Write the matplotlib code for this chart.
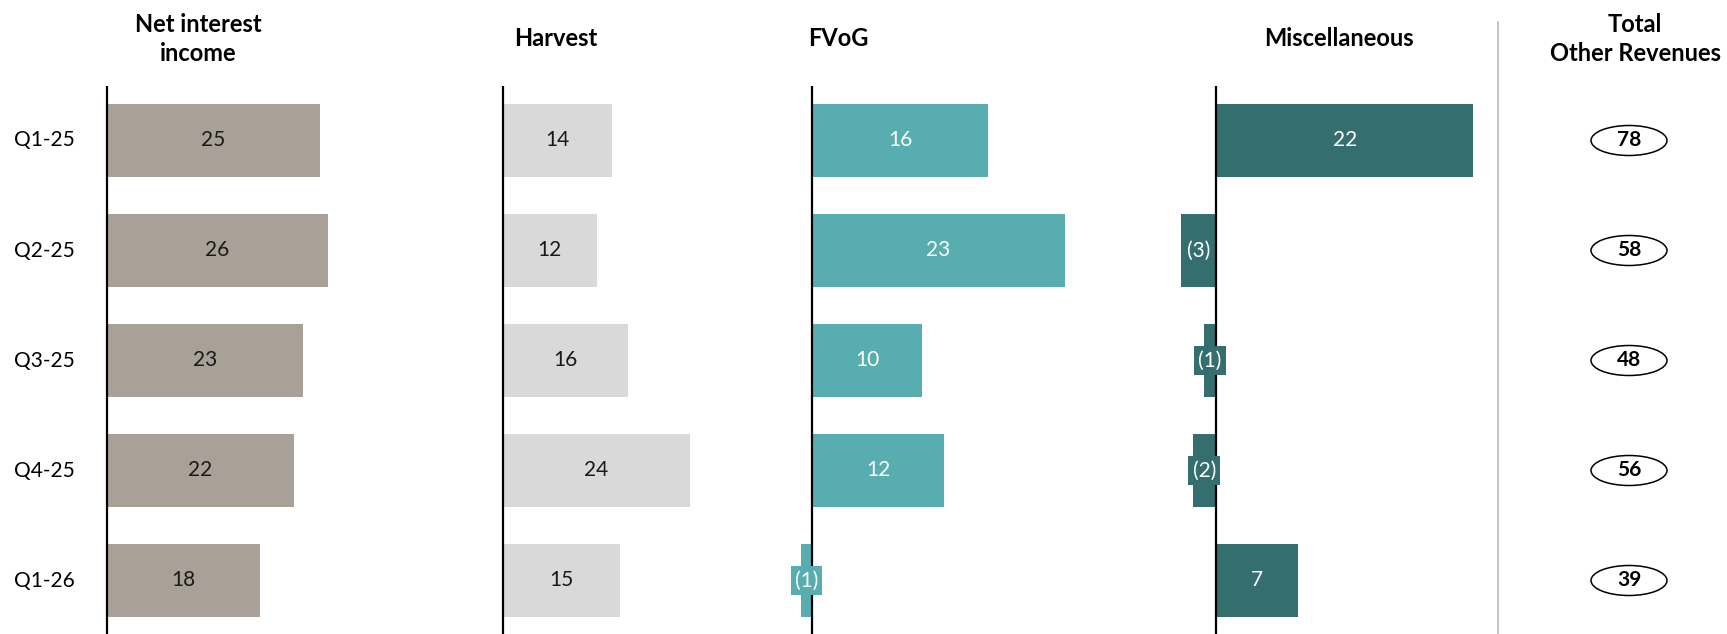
import matplotlib.pyplot as plt
from matplotlib.patches import Ellipse

plt.rcParams['font.family'] = ['Lato', 'DejaVu Sans']

quarters = ["Q1-25", "Q2-25", "Q3-25", "Q4-25", "Q1-26"]
net_interest = [25, 26, 23, 22, 18]
harvest = [14, 12, 16, 24, 15]
fvog = [16, 23, 10, 12, -1]
misc = [22, -3, -1, -2, 7]
totals = [78, 58, 48, 56, 39]

W, H = 1727, 634
fig = plt.figure(figsize=(W / 100, H / 100), dpi=100)

# vertical layout shared by all panels (pixels)
top_px = 86
row0_px, row_step = 140.5, 110
ylim = (4 + (H - (row0_px + 4 * row_step)) / row_step, -(row0_px - top_px) / row_step)
ax_bottom, ax_height = 0.0, (H - top_px) / H

LABEL_FS = 15
TITLE_FS = 17

# panel: title, values, bar colour, label colour, zero line px, px per unit, left px, right px, title x px
panels = [
    ("Net interest\nincome", net_interest, "#A9A097", "#1a1a1a", 107, 8.5, 95, 470, 198),
    ("Harvest", harvest, "#D9D9DA", "#1a1a1a", 503, 7.8, 470, 775, 556),
    ("FVoG", fvog, "#57ADB0", "white", 812, 11.0, 775, 1150, 838),
    ("Miscellaneous", misc, "#356E6F", "white", 1216, 11.7, 1150, 1490, 1339),
]

for title, vals, color, tcolor, zero, scale, left, right, tx in panels:
    ax = fig.add_axes([left / W, ax_bottom, (right - left) / W, ax_height])
    ax.set_xlim((left - zero) / scale, (right - zero) / scale)
    ax.set_ylim(*ylim)
    ax.barh(range(len(vals)), vals, height=0.664, color=color, zorder=2)
    ax.axvline(0, color="black", lw=1.6, zorder=3)
    for i, v in enumerate(vals):
        lab = f"({abs(v)})" if v < 0 else f"{v}"
        ax.text(v / 2, i, lab, ha="center", va="center", fontsize=LABEL_FS, color=tcolor, zorder=4,
                bbox=dict(boxstyle="square,pad=0.2", fc=color, ec="none"))
    ax.axis("off")
    fig.text(tx / W, 1 - 39 / H, title, ha="center", va="center", fontsize=TITLE_FS,
             fontweight="bold", linespacing=1.3)

# quarter labels on the left
for i, q in enumerate(quarters):
    fig.text(75 / W, 1 - (row0_px + i * row_step) / H, q, ha="right", va="center", fontsize=LABEL_FS)

# separator before the totals column
fig.add_artist(plt.Line2D([1498 / W, 1498 / W], [0, 1 - 22 / H], color="#BFBFBF", lw=1.3))

# totals column with circled values
axt = fig.add_axes([1560 / W, ax_bottom, 140 / W, ax_height])
axt.set_xlim(0, 140)
axt.set_ylim(*ylim)
axt.axis("off")
for i, t in enumerate(totals):
    axt.add_patch(Ellipse((69, i), 76, 30 / row_step, transform=axt.transData,
                          fc="white", ec="black", lw=1.1))
    axt.text(69, i, f"{t}", ha="center", va="center", fontsize=LABEL_FS, fontweight="bold")
fig.text(1635 / W, 1 - 39 / H, "Total\nOther Revenues", ha="center", va="center",
         fontsize=TITLE_FS, fontweight="bold", linespacing=1.3)

fig.savefig("out.png", dpi=100)
